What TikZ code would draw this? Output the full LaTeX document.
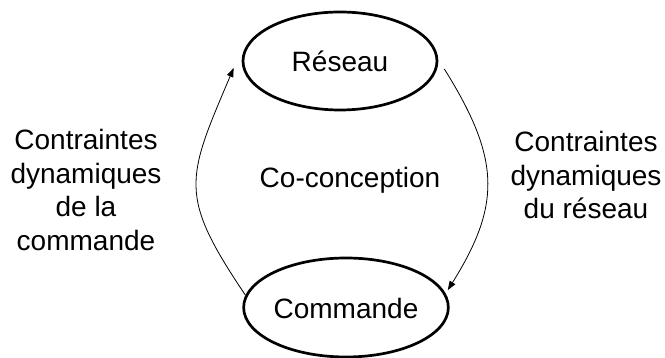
\documentclass[tikz,border=0pt]{standalone}
\usepackage{fontspec}
\setmainfont{Liberation Sans}
\usetikzlibrary{shapes.geometric,arrows.meta}
\begin{document}
\begin{tikzpicture}[x=1pt,y=1pt,
  bigtext/.style={font=\fontsize{28}{33.5}\selectfont},
  stateell/.style={ellipse,draw,line width=2.7pt,inner sep=0pt,bigtext,text height=22pt,text depth=0pt},
  lbl/.style={bigtext,align=center,inner sep=0pt},
  conn/.style={line width=0.8pt,-{Triangle[length=9pt,width=6.5pt]}}]
\useasboundingbox (0,0) rectangle (665,358);
\node[stateell,minimum width=194pt,minimum height=98pt] (res) at (340,297) {Réseau};
\node[stateell,minimum width=192pt,minimum height=99pt] (com) at (346,50.5) {Commande};
\node[lbl,anchor=base] (co) at (350,170) {Co-conception};
\node[lbl] (left) at (86,168) {Contraintes\\dynamiques\\de la\\commande};
\node[lbl] (right) at (586,183) {Contraintes\\dynamiques\\du réseau};
\coordinate (lt) at ([shift={(-8pt,-7pt)}]res.west);
\coordinate (rt) at ([shift={(6pt,-8pt)}]res.east);
\draw[conn] (com.173) to[out=124,in=-113,looseness=1.36] (lt);
\draw[conn,shorten >=4pt] (rt) to[out=-58,in=58,looseness=1.2] (com.8);
\end{tikzpicture}
\end{document}
